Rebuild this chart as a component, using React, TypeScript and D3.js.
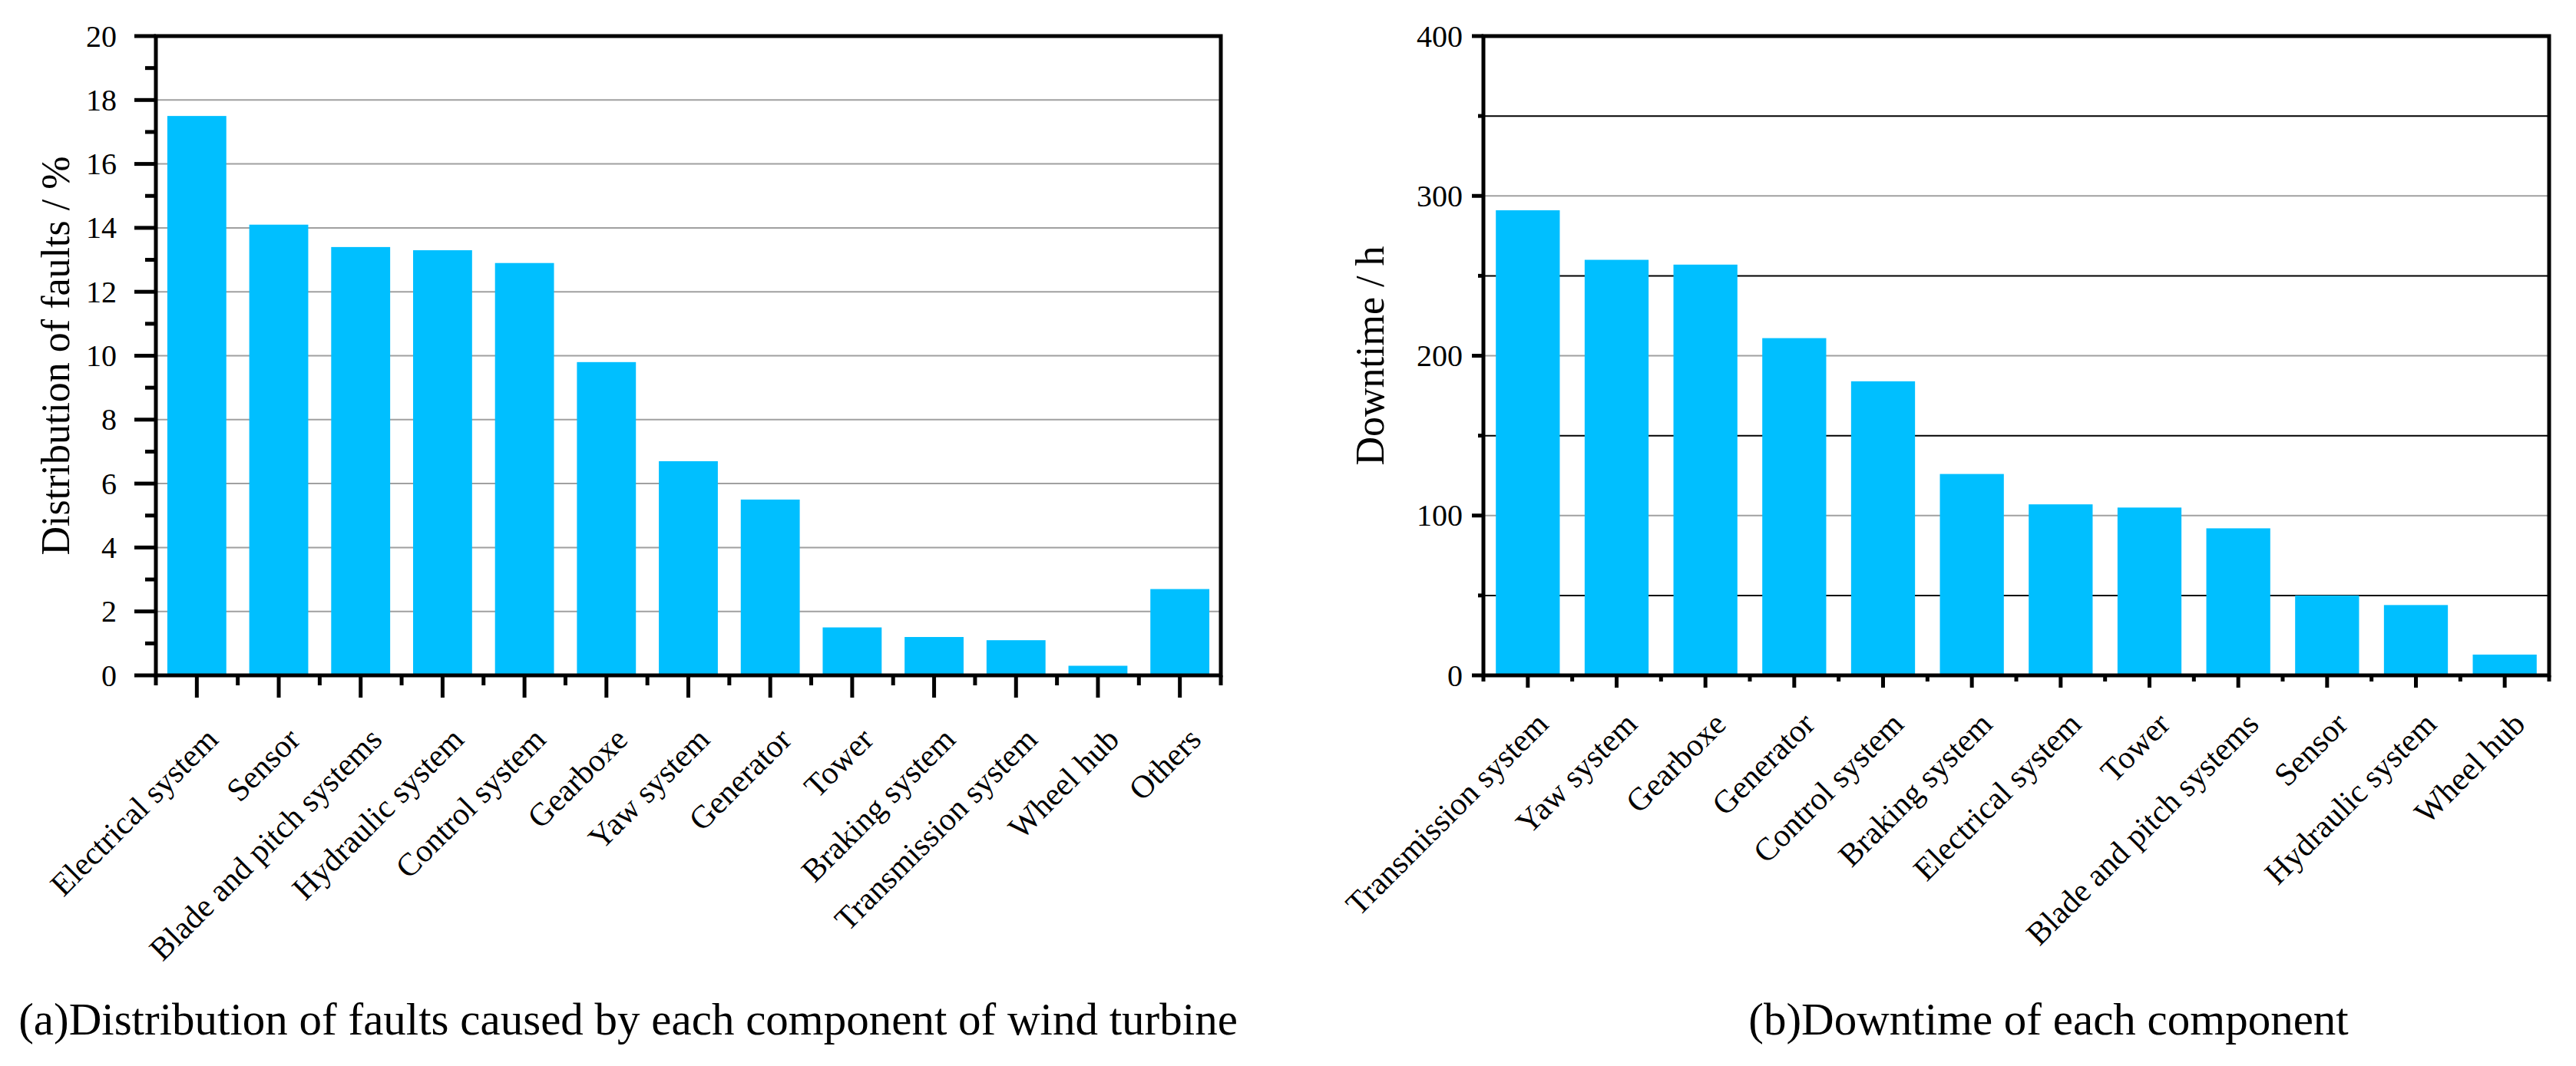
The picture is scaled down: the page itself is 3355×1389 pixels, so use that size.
import { useEffect } from "react";
import * as d3 from "d3";

const WIDTH = 3355;
const HEIGHT = 1389;
const FONT = "'Liberation Serif', 'Times New Roman', serif";
const BAR_COLOR = "#00BFFF";
const GRID_GRAY = "#a0a0a0";

// (a) share of faults per component, in %
const faultCategories = [
  "Electrical system",
  "Sensor",
  "Blade and pitch systems",
  "Hydraulic system",
  "Control system",
  "Gearboxe",
  "Yaw system",
  "Generator",
  "Tower",
  "Braking system",
  "Transmission system",
  "Wheel hub",
  "Others",
];
const faultValues = [17.5, 14.1, 13.4, 13.3, 12.9, 9.8, 6.7, 5.5, 1.5, 1.2, 1.1, 0.3, 2.7];
const faultTicks = [0, 2, 4, 6, 8, 10, 12, 14, 16, 18, 20];
const faultMinorTicks = [1, 3, 5, 7, 9, 11, 13, 15, 17, 19];

// (b) downtime per component, in hours
const downtimeCategories = [
  "Transmission system",
  "Yaw system",
  "Gearboxe",
  "Generator",
  "Control system",
  "Braking system",
  "Electrical system",
  "Tower",
  "Blade and pitch systems",
  "Sensor",
  "Hydraulic system",
  "Wheel hub",
];
const downtimeValues = [291, 260, 257, 211, 184, 126, 107, 105, 92, 50, 44, 13];
const downtimeTicks = [0, 100, 200, 300, 400];
const downtimeMinorTicks = [50, 150, 250, 350];

type GridLine = { value: number; color: string };

type PanelProps = {
  left: number;
  right: number;
  top: number;
  bottom: number;
  categories: string[];
  values: number[];
  yTicks: number[];
  yMinorTicks: number[];
  grid: GridLine[];
  majorLen: number;
  minorLen: number;
  xMajorLen: number;
  xMinorLen: number;
  tickLabelGap: number;
  labelDx: number;
  labelDy: number;
  yLabel: string;
  yLabelX: number;
  title: string;
  titleX: number;
};

const AXIS_W = 5;

const BarPanel = (p: PanelProps) => {
  const yScale = d3
    .scaleLinear()
    .domain([0, d3.max(p.yTicks) as number])
    .range([p.bottom, p.top]);

  const xScale = d3
    .scaleBand<string>()
    .domain(p.categories)
    .range([p.left, p.right])
    .paddingInner(0.28)
    .paddingOuter(0.14);

  const step = xScale.step();
  const centers = p.categories.map((c) => (xScale(c) as number) + xScale.bandwidth() / 2);
  const bounds = [...centers.map((c) => c - step / 2), centers[centers.length - 1] + step / 2];

  return (
    <g>
      {/* grid lines behind the bars */}
      {p.grid.map((g) => (
        <line
          key={"g" + g.value}
          x1={p.left}
          x2={p.right}
          y1={yScale(g.value)}
          y2={yScale(g.value)}
          stroke={g.color}
          strokeWidth={2}
        />
      ))}

      {/* bars */}
      {p.categories.map((c, i) => (
        <rect
          key={c}
          x={xScale(c)}
          y={yScale(p.values[i])}
          width={xScale.bandwidth()}
          height={p.bottom - yScale(p.values[i])}
          fill={BAR_COLOR}
        />
      ))}

      {/* frame */}
      <rect
        x={p.left}
        y={p.top}
        width={p.right - p.left}
        height={p.bottom - p.top}
        fill="none"
        stroke="#000"
        strokeWidth={AXIS_W}
      />

      {/* y ticks */}
      {p.yTicks.map((t) => (
        <g key={"yt" + t}>
          <line
            x1={p.left - p.majorLen}
            x2={p.left}
            y1={yScale(t)}
            y2={yScale(t)}
            stroke="#000"
            strokeWidth={AXIS_W}
          />
          <text
            x={p.left - p.majorLen - p.tickLabelGap}
            y={yScale(t)}
            textAnchor="end"
            dominantBaseline="central"
            fontSize={40}
          >
            {t}
          </text>
        </g>
      ))}
      {p.yMinorTicks.map((t) => (
        <line
          key={"ym" + t}
          x1={p.left - p.minorLen}
          x2={p.left}
          y1={yScale(t)}
          y2={yScale(t)}
          stroke="#000"
          strokeWidth={AXIS_W}
        />
      ))}

      {/* x ticks: long at the bar centres, short between bars */}
      {centers.map((cx, i) => (
        <line
          key={"xt" + i}
          x1={cx}
          x2={cx}
          y1={p.bottom}
          y2={p.bottom + p.xMajorLen}
          stroke="#000"
          strokeWidth={AXIS_W}
        />
      ))}
      {bounds.map((bx, i) => (
        <line
          key={"xm" + i}
          x1={bx}
          x2={bx}
          y1={p.bottom}
          y2={p.bottom + p.xMinorLen}
          stroke="#000"
          strokeWidth={AXIS_W}
        />
      ))}

      {/* category labels */}
      {p.categories.map((c, i) => {
        const lx = centers[i] + p.labelDx;
        const ly = p.bottom + p.labelDy;
        return (
          <text
            key={"lab" + c}
            transform={`translate(${lx},${ly}) rotate(-45)`}
            textAnchor="end"
            fontSize={42}
          >
            {c}
          </text>
        );
      })}

      {/* y axis title */}
      <text
        transform={`translate(${p.yLabelX},${(p.top + p.bottom) / 2}) rotate(-90)`}
        textAnchor="middle"
        dominantBaseline="central"
        fontSize={52}
      >
        {p.yLabel}
      </text>

      {/* panel caption */}
      <text x={p.titleX} y={1348} textAnchor="middle" fontSize={59}>
        {p.title}
      </text>
    </g>
  );
};

export default function App() {
  useEffect(() => {
    document.body.style.margin = "0";
    document.body.style.overflow = "hidden";
  }, []);

  return (
    <div style={{ position: "absolute", left: 0, top: 0 }}>
      <svg width={WIDTH} height={HEIGHT} style={{ display: "block", background: "#fff" }} fontFamily={FONT}>
        <BarPanel
          left={203}
          right={1590}
          top={47}
          bottom={880}
          categories={faultCategories}
          values={faultValues}
          yTicks={faultTicks}
          yMinorTicks={faultMinorTicks}
          grid={faultTicks.slice(1, -1).map((v) => ({ value: v, color: GRID_GRAY }))}
          majorLen={28}
          minorLen={14}
          xMajorLen={29}
          xMinorLen={13}
          tickLabelGap={23}
          labelDx={30}
          labelDy={86}
          yLabel="Distribution of faults / %"
          yLabelX={72}
          title="(a)Distribution of faults caused by each component of wind turbine"
          titleX={818}
        />
        <BarPanel
          left={1932}
          right={3320}
          top={47}
          bottom={880}
          categories={downtimeCategories}
          values={downtimeValues}
          yTicks={downtimeTicks}
          yMinorTicks={downtimeMinorTicks}
          grid={[
            ...downtimeTicks.slice(1, -1).map((v) => ({ value: v, color: GRID_GRAY })),
            ...downtimeMinorTicks.map((v) => ({ value: v, color: "#000" })),
          ]}
          majorLen={15}
          minorLen={7}
          xMajorLen={16}
          xMinorLen={8}
          tickLabelGap={12}
          labelDx={29}
          labelDy={66}
          yLabel="Downtime / h"
          yLabelX={1784}
          title="(b)Downtime of each component"
          titleX={2668}
        />
      </svg>
    </div>
  );
}
